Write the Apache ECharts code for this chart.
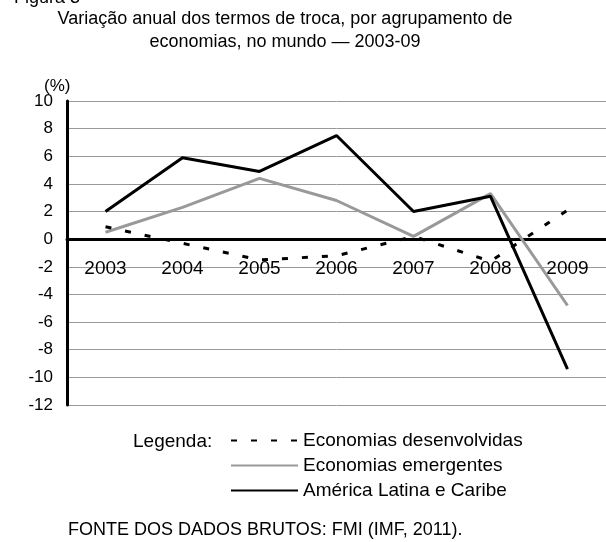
<!DOCTYPE html>
<html>
<head>
<meta charset="utf-8">
<script src="https://cdn.jsdelivr.net/npm/echarts@6/dist/echarts.min.js"></script>
<style>
  html, body { margin: 0; padding: 0; background: #fff; }
  #chart { width: 606px; height: 542px; }
</style>
</head>
<body>
<div id="chart"></div>
<script>
// anos (eixo x)
var anos = ['2003', '2004', '2005', '2006', '2007', '2008', '2009'];
// variação anual dos termos de troca (%)
var desenvolvidas = [0.9, -0.3, -1.5, -1.2, 0.2, -1.6, 2.1];
var emergentes = [0.5, 2.3, 4.4, 2.8, 0.2, 3.3, -4.8];
var americaLatina = [2.0, 5.9, 4.9, 7.5, 2.0, 3.1, -9.4];

var fonte = 'Liberation Sans, Arial, sans-serif';

var chart = echarts.init(document.getElementById('chart'));

var option = {
    animation: false,
    textStyle: { fontFamily: fonte },
    title: {
        text: 'Variação anual dos termos de troca, por agrupamento de\neconomias, no mundo — 2003-09',
        left: 285,
        textAlign: 'center',
        top: 8,
        padding: 0,
        textStyle: { fontSize: 18, fontWeight: 'normal', color: '#000', lineHeight: 23, align: 'center' }
    },
    grid: { left: 67, right: 0, top: 101, bottom: 137 },
    legend: {
        orient: 'vertical',
        left: 230,
        top: 431,
        padding: 0,
        itemWidth: 67,
        itemHeight: 14,
        itemGap: 6,
        itemStyle: { opacity: 0 },
        textStyle: { fontSize: 19, color: '#000' },
        data: ['Economias desenvolvidas', 'Economias emergentes', 'América Latina e Caribe']
    },
    xAxis: {
        type: 'category',
        data: anos,
        boundaryGap: true,
        // eixo x desenhado na linha do zero
        offset: -166,
        axisLine: { onZero: false, lineStyle: { color: '#000', width: 3 } },
        axisTick: { show: false },
        axisLabel: { fontSize: 19, color: '#000', margin: 20 }
    },
    yAxis: {
        type: 'value',
        min: -12,
        max: 10,
        interval: 2,
        axisLine: { show: true, lineStyle: { color: '#000', width: 3 } },
        axisTick: { show: false },
        axisLabel: { fontSize: 17, color: '#000', margin: 14 },
        splitLine: { lineStyle: { color: '#999', width: 1 } }
    },
    graphic: [
        { type: 'text', left: 14, top: -11, style: { text: 'Figura 3', fontSize: 18, fill: '#000', fontFamily: fonte } },
        { type: 'text', left: 44, top: 78, style: { text: '(%)', fontSize: 17, fill: '#000', fontFamily: fonte } },
        { type: 'text', left: 133, top: 432, style: { text: 'Legenda:', fontSize: 19, fill: '#000', fontFamily: fonte } },
        { type: 'text', left: 68, top: 521, style: { text: 'FONTE DOS DADOS BRUTOS: FMI (IMF, 2011).', fontSize: 18, fill: '#000', fontFamily: fonte } }
    ],
    series: [
        {
            name: 'Economias desenvolvidas',
            type: 'line',
            data: desenvolvidas,
            symbol: 'none',
            lineStyle: { color: '#000', width: 3, type: [6, 14] },
            itemStyle: { color: '#000' },
            z: 3
        },
        {
            name: 'Economias emergentes',
            type: 'line',
            data: emergentes,
            symbol: 'none',
            lineStyle: { color: '#999', width: 3 },
            itemStyle: { color: '#999' },
            z: 2
        },
        {
            name: 'América Latina e Caribe',
            type: 'line',
            data: americaLatina,
            symbol: 'none',
            lineStyle: { color: '#000', width: 3 },
            itemStyle: { color: '#000' },
            z: 4
        }
    ]
};

chart.setOption(option);
</script>
</body>
</html>
